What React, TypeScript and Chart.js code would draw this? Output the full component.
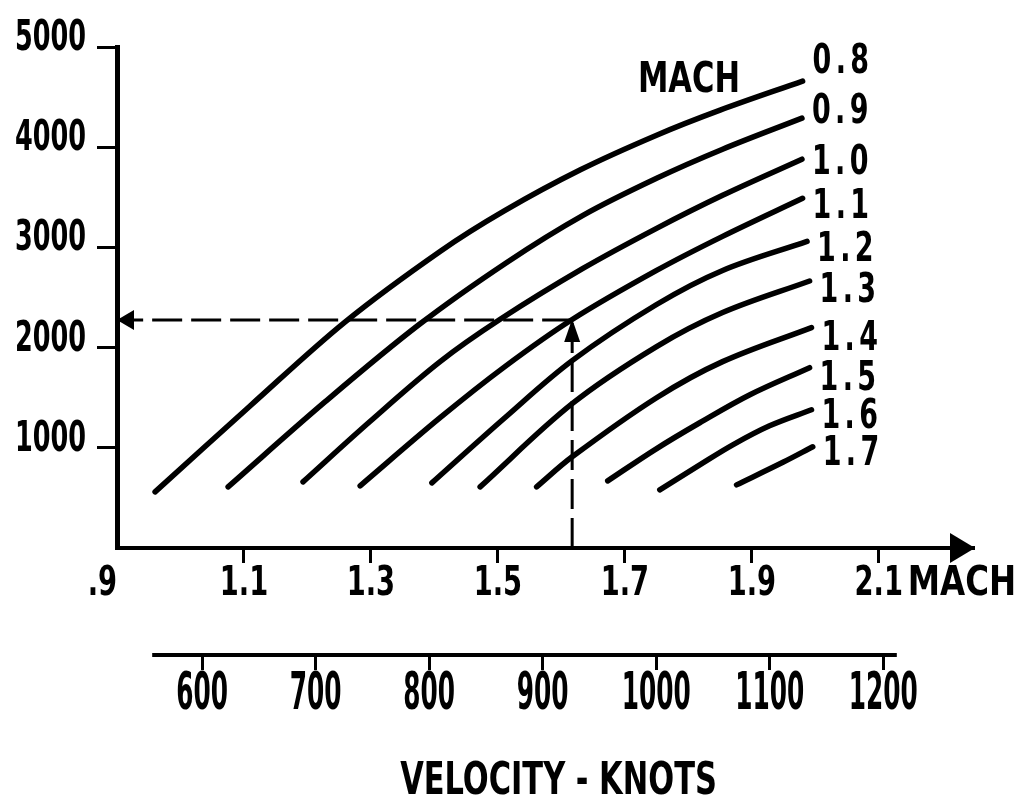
import React, { useEffect, useRef } from 'react';
import { Chart, registerables } from 'chart.js';

Chart.register(...registerables);

// ---------- data ----------
const CURVE_LABELS = ['0.8', '0.9', '1.0', '1.1', '1.2', '1.3', '1.4', '1.5', '1.6', '1.7'];

const M08_X = [0.96, 1.11, 1.26, 1.41, 1.51, 1.63, 1.75, 1.85, 1.98];
const M08_Y = [560, 1420, 2260, 2965, 3365, 3775, 4120, 4370, 4660];
const M09_X = [1.075, 1.228, 1.377, 1.514, 1.634, 1.75, 1.854, 1.979];
const M09_Y = [610, 1460, 2235, 2850, 3320, 3690, 3980, 4290];
const M10_X = [1.193, 1.298, 1.409, 1.503, 1.634, 1.75, 1.854, 1.979];
const M10_Y = [660, 1260, 1860, 2280, 2790, 3190, 3520, 3880];
const M11_X = [1.283, 1.409, 1.511, 1.617, 1.75, 1.854, 1.98];
const M11_Y = [620, 1300, 1810, 2280, 2770, 3110, 3490];
const M12_X = [1.396, 1.511, 1.617, 1.75, 1.854, 1.987];
const M12_Y = [650, 1300, 1870, 2430, 2770, 3060];
const M13_X = [1.472, 1.617, 1.75, 1.854, 1.991];
const M13_Y = [610, 1440, 2010, 2350, 2665];
const M14_X = [1.561, 1.617, 1.75, 1.854, 1.994];
const M14_Y = [610, 910, 1500, 1860, 2200];
const M15_X = [1.673, 1.747, 1.818, 1.897, 1.991];
const M15_Y = [670, 980, 1250, 1530, 1800];
const M16_X = [1.755, 1.818, 1.87, 1.928, 1.994];
const M16_Y = [580, 830, 1030, 1220, 1380];
const M17_X = [1.876, 1.949, 1.996];
const M17_Y = [630, 855, 1010];

const CURVES_X = [M08_X, M09_X, M10_X, M11_X, M12_X, M13_X, M14_X, M15_X, M16_X, M17_X];
const CURVES_Y = [M08_Y, M09_Y, M10_Y, M11_Y, M12_Y, M13_Y, M14_Y, M15_Y, M16_Y, M17_Y];

const MACH_TICKS = [0.9, 1.1, 1.3, 1.5, 1.7, 1.9, 2.1];
const MACH_TICK_LABELS = ['.9', '1.1', '1.3', '1.5', '1.7', '1.9', '2.1'];
const MACH_UNIT = 'MACH';
const ALT_TICKS = [1000, 2000, 3000, 4000, 5000];
const KNOT_TICKS = [600, 700, 800, 900, 1000, 1100, 1200];
const KNOT_LINE = [556, 1212];
const KNOT_TITLE = 'VELOCITY - KNOTS';

const EXAMPLE_MACH = 1.617;
const EXAMPLE_ALT = 2275;
const MACH_NOTE = { text: 'MACH', x: 1.801, y: 4710 };

// ---------- style ----------
const FONT = '"DejaVu Sans Condensed", "DejaVu Sans", sans-serif';
const LABEL_NUDGE = [-23, -10, 0, 5, 5, 6, 7, 7, 3, 3];

// draw text horizontally squeezed; y is the alphabetic baseline
function txt(ctx: CanvasRenderingContext2D, text: string, x: number, y: number, size: number, sx: number, align: CanvasTextAlign, spacing = 0) {
  ctx.save();
  ctx.font = `bold ${size}px ${FONT}`;
  (ctx as any).letterSpacing = `${spacing}px`;
  ctx.textBaseline = 'alphabetic';
  ctx.textAlign = align;
  ctx.fillStyle = '#000';
  ctx.translate(x, y);
  ctx.scale(sx, 1);
  ctx.fillText(text, 0, 0);
  ctx.restore();
}

const decorations = {
  id: 'decorations',
  afterDraw(chart: any) {
    const { ctx, chartArea } = chart;
    const { x, y, x2 } = chart.scales;
    ctx.save();
    ctx.fillStyle = '#000';
    ctx.strokeStyle = '#000';

    // x-axis arrowhead
    const ax = x.right + 1;
    const ay = x.top;
    ctx.beginPath();
    ctx.moveTo(ax, ay);
    ctx.lineTo(ax - 25, ay - 15);
    ctx.lineTo(ax - 25, ay + 15);
    ctx.closePath();
    ctx.fill();

    // Mach tick labels
    const machBase = x.top + 47;
    MACH_TICKS.forEach((v, i) => {
      const px = x.getPixelForValue(v);
      txt(ctx, MACH_TICK_LABELS[i], px, machBase, 41, 0.74, i === 0 ? 'right' : 'center');
    });
    txt(ctx, MACH_UNIT, x.getPixelForValue(2.1) + 29, machBase, 41, 0.88, 'left');

    // altitude tick labels
    ALT_TICKS.forEach((v) => {
      txt(ctx, String(v), y.right - 31, y.getPixelForValue(v) + 3, 43, 0.66, 'right');
    });

    // knots axis line + labels + title
    ctx.lineWidth = 4;
    ctx.beginPath();
    ctx.moveTo(x2.getPixelForValue(KNOT_LINE[0]), x2.top);
    ctx.lineTo(x2.getPixelForValue(KNOT_LINE[1]), x2.top);
    ctx.stroke();
    KNOT_TICKS.forEach((v) => {
      txt(ctx, String(v), x2.getPixelForValue(v), x2.top + 54, 52, 0.53, 'center');
    });
    txt(ctx, KNOT_TITLE, (chartArea.left + chartArea.right) / 2 + 13, x2.top + 139, 44, 0.77, 'center');

    // curve labels
    CURVE_LABELS.forEach((lab, i) => {
      const pts = chart.getDatasetMeta(i).data;
      const last = pts[pts.length - 1];
      txt(ctx, lab, last.x + 10, last.y + LABEL_NUDGE[i] + 15, 41, 0.73, 'left', 6);
    });

    // MACH note
    txt(ctx, MACH_NOTE.text, x.getPixelForValue(MACH_NOTE.x), y.getPixelForValue(MACH_NOTE.y) + 16, 43, 0.79, 'center');

    // arrowheads on the example path
    const px = x.getPixelForValue(EXAMPLE_MACH);
    const py = y.getPixelForValue(EXAMPLE_ALT);
    ctx.beginPath();
    ctx.moveTo(px, py - 1);
    ctx.lineTo(px - 8, py + 22);
    ctx.lineTo(px + 8, py + 22);
    ctx.closePath();
    ctx.fill();
    const lx = x.getPixelForValue(MACH_TICKS[0]);
    ctx.beginPath();
    ctx.moveTo(lx, py);
    ctx.lineTo(lx + 17, py - 10);
    ctx.lineTo(lx + 17, py + 10);
    ctx.closePath();
    ctx.fill();

    ctx.restore();
  },
};

export default function App() {
  const ref = useRef<HTMLCanvasElement | null>(null);

  useEffect(() => {
    if (!ref.current) return;
    const curveSets = CURVES_X.map((xs, i) => ({
      label: CURVE_LABELS[i],
      data: xs.map((v, j) => ({ x: v, y: CURVES_Y[i][j] })),
      showLine: true,
      borderColor: '#000',
      borderWidth: 5.5,
      borderCapStyle: 'round' as const,
      pointRadius: 0,
      tension: 0.35,
      xAxisID: 'x',
      yAxisID: 'y',
    }));
    const dashed = {
      borderColor: '#000',
      borderWidth: 3,
      borderDash: [30, 9],
      pointRadius: 0,
      showLine: true,
      xAxisID: 'x',
      yAxisID: 'y',
    };
    const chart = new Chart(ref.current, {
      type: 'scatter',
      data: {
        datasets: [
          ...curveSets,
          { ...dashed, label: 'up', data: [{ x: EXAMPLE_MACH, y: 0 }, { x: EXAMPLE_MACH, y: EXAMPLE_ALT }] },
          { ...dashed, label: 'left', data: [{ x: EXAMPLE_MACH, y: EXAMPLE_ALT }, { x: MACH_TICKS[0], y: EXAMPLE_ALT }] },
        ],
      },
      options: {
        animation: false,
        responsive: false,
        layout: { padding: { top: 47, right: 51, left: 0, bottom: 0 } },
        plugins: { legend: { display: false }, tooltip: { enabled: false } },
        scales: {
          x: {
            type: 'linear',
            position: 'bottom',
            weight: 0,
            min: 0.9,
            max: 2.25,
            afterBuildTicks: (s: any) => { s.ticks = MACH_TICKS.map((v) => ({ value: v })); },
            afterFit: (s: any) => { s.height = 107; },
            ticks: { display: false },
            grid: {
              drawOnChartArea: false,
              tickLength: 15,
              tickWidth: 3,
              tickColor: (c: any) => (c.tick && c.tick.value === MACH_TICKS[0] ? 'rgba(0,0,0,0)' : '#000'),
            },
            border: { display: true, color: '#000', width: 4 },
          },
          x2: {
            type: 'linear',
            position: 'bottom',
            weight: 1,
            min: 525,
            max: 1280,
            afterBuildTicks: (s: any) => { s.ticks = KNOT_TICKS.map((v) => ({ value: v })); },
            afterFit: (s: any) => { s.height = 141; },
            ticks: { display: false },
            grid: { drawOnChartArea: false, tickLength: 15, tickWidth: 3, tickColor: '#000' },
            border: { display: false },
          },
          y: {
            type: 'linear',
            position: 'left',
            min: 0,
            max: 5000,
            afterBuildTicks: (s: any) => { s.ticks = ALT_TICKS.map((v) => ({ value: v })); },
            afterFit: (s: any) => { s.width = 117; },
            ticks: { display: false },
            grid: { drawOnChartArea: false, tickLength: 20, tickWidth: 3, tickColor: '#000' },
            border: { display: true, color: '#000', width: 5 },
          },
        },
      },
      plugins: [decorations],
    } as any);
    return () => chart.destroy();
  }, []);

  return (
    <div style={{ position: 'fixed', left: 0, top: 0, width: 1025, height: 796, background: '#fff' }}>
      <canvas ref={ref} width={1025} height={796} style={{ display: 'block' }} />
    </div>
  );
}
